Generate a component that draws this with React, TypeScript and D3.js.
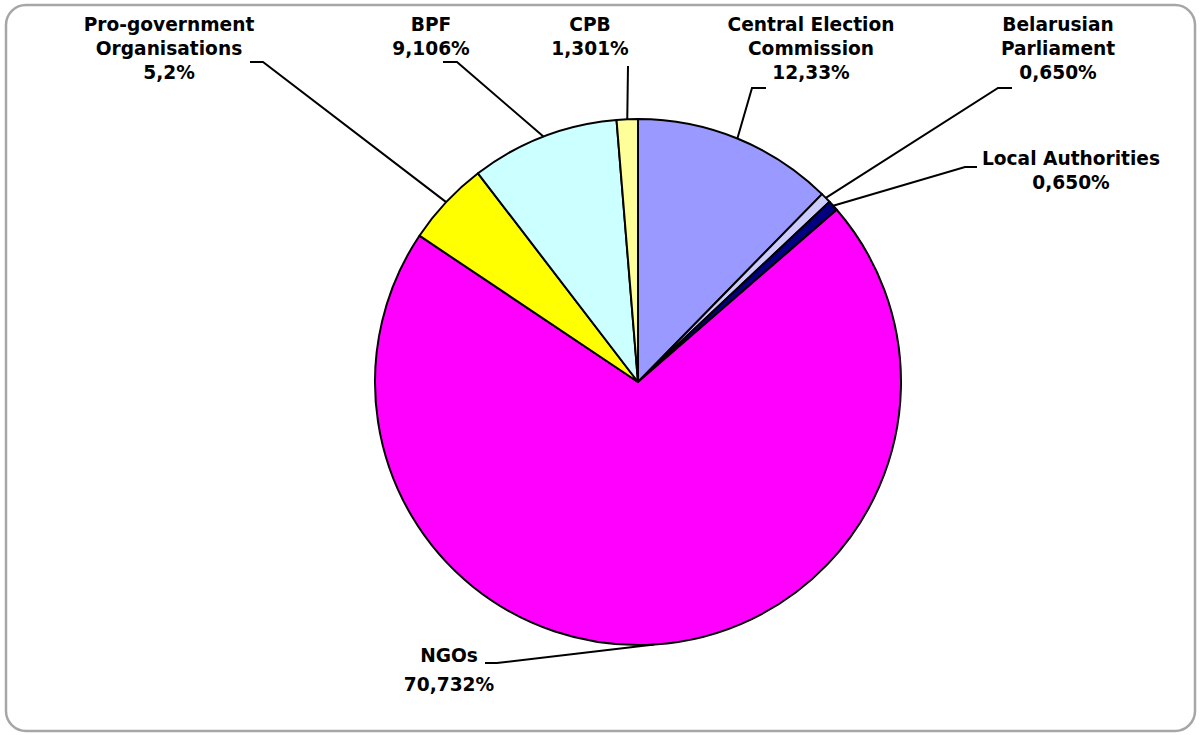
import React from "react";
import * as d3 from "d3";

const categories = [
  "Central Election Commission",
  "Belarusian Parliament",
  "Local Authorities",
  "NGOs",
  "Pro-government Organisations",
  "BPF",
  "CPB",
];
const values = [12.33, 0.65, 0.65, 70.732, 5.2, 9.106, 1.301];
const valueLabels = ["12,33%", "0,650%", "0,650%", "70,732%", "5,2%", "9,106%", "1,301%"];
const labelLines = [
  ["Central Election", "Commission"],
  ["Belarusian", "Parliament"],
  ["Local Authorities"],
  ["NGOs"],
  ["Pro-government", "Organisations"],
  ["BPF"],
  ["CPB"],
];
const colors = ["#9999FF", "#CCCCFF", "#000080", "#FF00FF", "#FFFF00", "#CCFFFF", "#FFFF99"];

// label layout: text centre x, first baseline y, leader elbow points
const labelLayout = [
  { x: 811, y: 31, leader: [[766, 88], [752, 88]] },
  { x: 1058, y: 31, leader: [[1012, 88], [998, 88]] },
  { x: 1071, y: 165, leader: [[977, 167], [965, 167]] },
  { x: 449, y: 662, leader: [[485, 663], [497, 663]] },
  { x: 169, y: 31, leader: [[250, 62], [263, 62]] },
  { x: 431, y: 31, leader: [[443, 62], [457, 62]] },
  { x: 590, y: 31, leader: [[628, 66], [628, 66]] },
];

const W = 1200;
const H = 735;
const cx = 638;
const cy = 382;
const R = 263;
const lineH = 24;

export default function App() {
  const pie = d3.pie<number>().sort(null).value((d) => d)(values);
  const arc = d3.arc<d3.PieArcDatum<number>>().innerRadius(0).outerRadius(R);
  const edge = (a: d3.PieArcDatum<number>) => {
    const m = (a.startAngle + a.endAngle) / 2;
    return [cx + R * Math.sin(m), cy - R * Math.cos(m)];
  };
  return (
    <svg
      width={W}
      height={H}
      style={{ position: "fixed", left: 0, top: 0, background: "#fff" }}
      fontFamily="'DejaVu Sans', Verdana, sans-serif"
    >
      <rect x={6} y={5} width={1189} height={726} rx={20} ry={20} fill="#fff" stroke="#a6a6a6" strokeWidth={2.5} />
      <g transform={`translate(${cx},${cy})`}>
        {pie.map((p, i) => (
          <path key={i} d={arc(p) || ""} fill={colors[i]} stroke="#000" strokeWidth={2} strokeLinejoin="round" />
        ))}
      </g>
      {pie.map((p, i) => {
        const [ex, ey] = edge(p);
        const L = labelLayout[i];
        const pts = [...L.leader, [ex, ey]];
        const d = d3.line()(pts as [number, number][]) || "";
        return <path key={"l" + i} d={d} fill="none" stroke="#000" strokeWidth={2} />;
      })}
      {categories.map((c, i) => {
        const L = labelLayout[i];
        const lines = [...labelLines[i], valueLabels[i]];
        return (
          <text key={"t" + c} x={L.x} y={L.y} textAnchor="middle" fontSize={18.6} fontWeight="bold" fill="#000">
            {lines.map((s, j) => (
              <tspan key={j} x={L.x} y={L.y + j * lineH + (i === 3 && j > 0 ? 5 : 0)}>
                {s}
              </tspan>
            ))}
          </text>
        );
      })}
    </svg>
  );
}
